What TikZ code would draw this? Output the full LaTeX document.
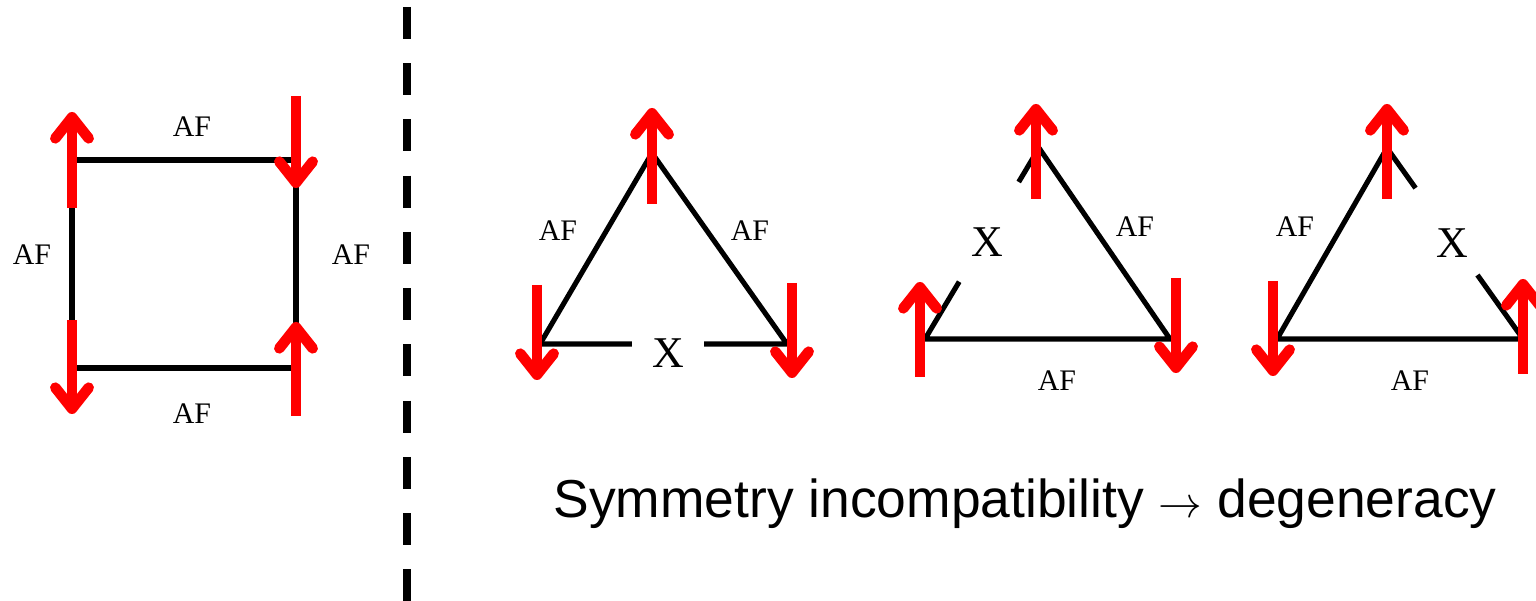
\documentclass[tikz,border=0pt]{standalone}
\usepackage{fontspec}
\setmainfont{Liberation Serif}
\newfontfamily\captfont{Liberation Sans}
\usetikzlibrary{arrows.meta,calc}

\tikzset{
  bond/.style={line width=2.9pt},
  spin/.style={red, line width=6pt, -{Straight Barb[round, length=12pt, width=19pt]}},
  aflabel/.style={font=\fontsize{17}{20}\selectfont, inner sep=0pt},
  xlabel/.style={font=\fontsize{25}{28}\selectfont, inner sep=0pt},
}

\begin{document}
\begin{tikzpicture}[x=0.02cm, y=-0.02cm]
    \useasboundingbox (0,0) rectangle (1536,601);

    % square plaquette
    \coordinate (q1) at (72,160);
    \coordinate (q2) at (296,160);
    \coordinate (q3) at (296,368);
    \coordinate (q4) at (72,368);
    \draw[bond] (q1) -- (q2) -- (q3) -- (q4) -- cycle;
    \node[aflabel] (afq1) at (192,127) {AF};
    \node[aflabel] (afq2) at (351,255) {AF};
    \node[aflabel] (afq3) at (192,414) {AF};
    \node[aflabel] (afq4) at (32,255) {AF};
    \draw[spin] ($(q1)+(0,48)$) -- ++(0,-96);
    \draw[spin] ($(q2)+(0,-64)$) -- ++(0,92);
    \draw[spin] ($(q3)+(0,48)$) -- ++(0,-94);
    \draw[spin] ($(q4)+(0,-48)$) -- ++(0,94);

    % divider
    \coordinate (d1) at (407,7);
    \coordinate (d2) at (407,601);
    \draw[line width=4.6pt, dash pattern=on 18.2pt off 13.8pt] (d1) -- (d2);

    % triangle 1: bottom bond frustrated
    \coordinate (a1) at (652,153);
    \coordinate (b1) at (540,344);
    \coordinate (c1) at (787,344);
    \draw[bond] (b1) -- ($(b1)!0.372!(c1)$);
    \draw[bond] (b1) -- (a1) -- (c1) -- ($(b1)!0.664!(c1)$);
    \node[aflabel] (afa1) at (558,231) {AF};
    \node[aflabel] (afb1) at (750,231) {AF};
    \node[xlabel] (x1) at (668,353) {X};
    \draw[spin] ($(a1)+(0,51)$) -- ++(0,-96);
    \draw[spin] ($(b1)+(-3,-59)$) -- ++(0,95);
    \draw[spin] ($(c1)+(5,-61)$) -- ++(0,95);

    % triangle 2: left bond frustrated
    \coordinate (a2) at (1039,148);
    \coordinate (b2) at (925,339);
    \coordinate (c2) at (1170,339);
    \draw[bond] ($(a2)!0.178!(b2)$) -- (a2) -- (c2) -- (b2) -- ($(a2)!0.70!(b2)$);
    \node[aflabel] (afa2) at (1135,227) {AF};
    \node[aflabel] (afb2) at (1057,381) {AF};
    \node[xlabel] (x2) at (987,242) {X};
    \draw[spin] ($(a2)+(-3,51)$) -- ++(0,-95);
    \draw[spin] ($(b2)+(-5,38)$) -- ++(0,-95);
    \draw[spin] ($(c2)+(6,-61)$) -- ++(0,95);

    % triangle 3: right bond frustrated
    \coordinate (a3) at (1387,148);
    \coordinate (b3) at (1277,339);
    \coordinate (c3) at (1523,339);
    \draw[bond] ($(a3)!0.21!(c3)$) -- (a3) -- (b3) -- (c3) -- ($(a3)!0.665!(c3)$);
    \node[aflabel] (afa3) at (1295,227) {AF};
    \node[aflabel] (afb3) at (1410,381) {AF};
    \node[xlabel] (x3) at (1452,243) {X};
    \draw[spin] ($(a3)+(0,51)$) -- ++(0,-95);
    \draw[spin] ($(b3)+(-4,-58)$) -- ++(0,95);
    \draw[spin] ($(c3)+(0,35)$) -- ++(0,-95);

    \node[anchor=base, inner sep=0pt, font=\captfont\fontsize{30.4}{34}\selectfont] (capt) at (1025,517)
      {Symmetry incompatibility $\rightarrow$ degeneracy};
\end{tikzpicture}
\end{document}
